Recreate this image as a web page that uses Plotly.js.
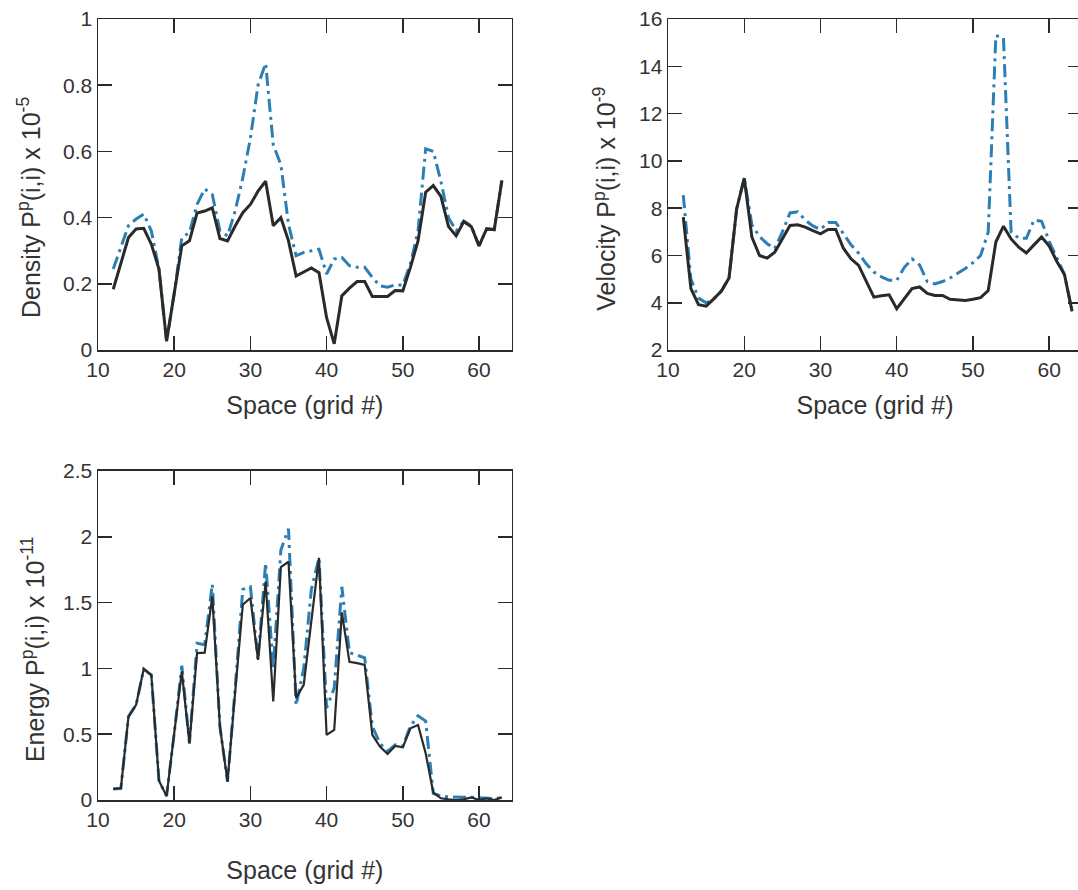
<!DOCTYPE html>
<html>
<head>
<meta charset="utf-8">
<script src="https://cdn.plot.ly/plotly-3.0.1.min.js"></script>
<style>
  html, body { margin: 0; padding: 0; overflow: hidden; background: #fff; }
  #chart { width: 1090px; height: 890px; }
</style>
</head>
<body>
<div id="chart"></div>
<script>
// Grid positions (Space, grid #)
const gridX = [12,13,14,15,16,17,18,19,20,21,22,23,24,25,26,27,28,29,30,31,32,33,34,35,36,37,38,39,40,41,42,43,44,45,46,47,48,49,50,51,52,53,54,55,56,57,58,59,60,61,62,63];

// Density P^p(i,i) x 1e-5
const densityBlack = [0.184,0.26,0.34,0.366,0.368,0.32,0.245,0.027,0.17,0.315,
  0.33,0.414,0.42,0.43,0.337,0.33,0.375,0.415,0.44,0.48,
  0.51,0.376,0.4,0.33,0.224,0.235,0.248,0.234,0.098,0.019,
  0.164,0.187,0.207,0.207,0.162,0.162,0.162,0.18,0.179,0.25,
  0.33,0.477,0.497,0.464,0.373,0.345,0.388,0.373,0.315,0.366,
  0.364,0.512];
const densityBlue = [0.245,0.31,0.376,0.396,0.411,0.36,0.245,0.027,0.17,0.34,
  0.355,0.44,0.487,0.47,0.36,0.345,0.42,0.52,0.64,0.80,
  0.866,0.62,0.56,0.38,0.285,0.295,0.30,0.305,0.23,0.275,
  0.28,0.255,0.25,0.25,0.22,0.194,0.19,0.197,0.197,0.26,
  0.36,0.608,0.6,0.51,0.40,0.36,0.39,0.375,0.315,0.366,
  0.364,0.512];

// Velocity P^p(i,i) x 1e-9
const velocityBlack = [7.62,4.6,3.92,3.86,4.17,4.5,5.05,7.97,9.27,6.78,
  6.0,5.89,6.14,6.7,7.27,7.3,7.2,7.05,6.92,7.1,
  7.1,6.31,5.86,5.58,4.9,4.24,4.3,4.34,3.75,4.2,
  4.6,4.67,4.4,4.31,4.31,4.15,4.12,4.1,4.15,4.22,
  4.52,6.57,7.24,6.7,6.35,6.11,6.45,6.78,6.4,5.75,
  5.2,3.64];
const velocityBlue = [8.55,5.0,4.2,4.0,4.17,4.5,5.05,7.97,9.27,7.3,
  6.8,6.5,6.3,7.0,7.8,7.85,7.5,7.25,7.1,7.4,
  7.4,6.9,6.45,6.1,5.65,5.3,5.1,4.95,4.95,5.5,
  5.86,5.6,4.9,4.8,4.9,5.05,5.25,5.45,5.7,6.0,
  7.0,15.3,15.2,7.0,6.73,6.73,7.5,7.45,6.6,5.9,
  5.2,3.64];

// Energy P^p(i,i) x 1e-11
const energyBlack = [0.084,0.089,0.634,0.723,0.995,0.95,0.147,0.03,0.507,0.977,
  0.43,1.116,1.12,1.547,0.558,0.139,0.82,1.484,1.535,1.065,
  1.66,0.748,1.77,1.81,0.774,0.875,1.36,1.84,0.495,0.533,
  1.425,1.05,1.04,1.027,0.495,0.406,0.35,0.41,0.40,0.545,
  0.57,0.355,0.056,0.013,0.005,0.0,0.005,0.02,0.0,0.013,
  0.0,0.02];
const energyBlue = [0.084,0.089,0.634,0.723,0.995,0.95,0.147,0.03,0.507,1.02,
  0.43,1.19,1.18,1.64,0.558,0.139,0.85,1.6,1.62,1.065,
  1.8,1.0,1.9,2.06,0.72,1.0,1.6,1.84,0.7,0.85,
  1.62,1.12,1.1,1.08,0.56,0.43,0.37,0.42,0.41,0.56,
  0.64,0.6,0.05,0.03,0.025,0.02,0.02,0.02,0.015,0.01,
  0.01,0.02];

const xTicks = [10,20,30,40,50,60];

const BLACK = '#2a2a2a';
const BLUE = '#2b7fb5';
const DASH = '13px,5px,3px,5px';
const FONT = 'Liberation Sans, Arial, Helvetica, sans-serif';
const TITLE_SIZE = 25;
const TICK_SIZE = 21;

function blueTrace(y, xa, ya) {
  return {x: gridX, y: y, xaxis: xa, yaxis: ya, type: 'scatter', mode: 'lines',
    line: {color: BLUE, width: 3, dash: DASH}, showlegend: false, hoverinfo: 'skip'};
}
function blackTrace(y, xa, ya, w) {
  return {x: gridX, y: y, xaxis: xa, yaxis: ya, type: 'scatter', mode: 'lines',
    line: {color: BLACK, width: w}, showlegend: false, hoverinfo: 'skip'};
}

const data = [
  blueTrace(densityBlue, 'x', 'y'), blackTrace(densityBlack, 'x', 'y', 3),
  blueTrace(velocityBlue, 'x2', 'y2'), blackTrace(velocityBlack, 'x2', 'y2', 3),
  blueTrace(energyBlue, 'x3', 'y3'), blackTrace(energyBlack, 'x3', 'y3', 2.2)
];

function axisBase() {
  return {
    showline: true, linecolor: BLACK, linewidth: 1.5, mirror: 'ticks',
    ticks: 'inside', ticklen: 14, tickwidth: 1.5, tickcolor: BLACK,
    showgrid: false, zeroline: false, fixedrange: true,
    tickfont: {family: FONT, size: TICK_SIZE, color: '#333'}
  };
}
function xAxis(domain, anchor, standoff) {
  return Object.assign(axisBase(), {
    domain: domain, anchor: anchor, range: [10, 64.3],
    tickmode: 'array', tickvals: xTicks, ticktext: xTicks.map(String),
    title: {text: 'Space (grid #)', font: {family: FONT, size: TITLE_SIZE, color: '#333'}, standoff: standoff}
  });
}
function yAxis(domain, anchor, range, dtick) {
  return Object.assign(axisBase(), {
    domain: domain, anchor: anchor, range: range, dtick: dtick, tick0: range[0]
  });
}

function yTitle(text, x, y) {
  return {text: text, xref: 'paper', yref: 'paper', x: x, y: y,
    xanchor: 'center', yanchor: 'middle', textangle: -90, showarrow: false,
    font: {family: FONT, size: TITLE_SIZE, color: '#333'}};
}

const layout = {
  width: 1090, height: 890,
  margin: {l: 98, r: 8, t: 19, b: 90},
  paper_bgcolor: '#fff', plot_bgcolor: '#fff',
  font: {family: FONT, color: '#333'},
  xaxis: xAxis([0, 0.4205], 'y', 16),
  yaxis: yAxis([0.576, 1], 'x', [0, 1], 0.2),
  xaxis2: xAxis([0.5793, 1], 'y2', 16),
  yaxis2: yAxis([0.576, 1], 'x2', [2, 16], 2),
  xaxis3: xAxis([0, 0.4205], 'y3', 32),
  yaxis3: yAxis([0, 0.4213], 'x3', [0, 2.5], 0.5),
  annotations: [
    yTitle('Density P<sup>p</sup>(i,i) x 10<sup>-5</sup>', -0.0701, 0.758),
    yTitle('Velocity P<sup>p</sup>(i,i) x 10<sup>-9</sup>', 0.515, 0.7695),
    yTitle('Energy P<sup>p</sup>(i,i) x 10<sup>-11</sup>', -0.066, 0.192)
  ]
};

Plotly.newPlot('chart', data, layout, {staticPlot: true, displayModeBar: false});
</script>
</body>
</html>
